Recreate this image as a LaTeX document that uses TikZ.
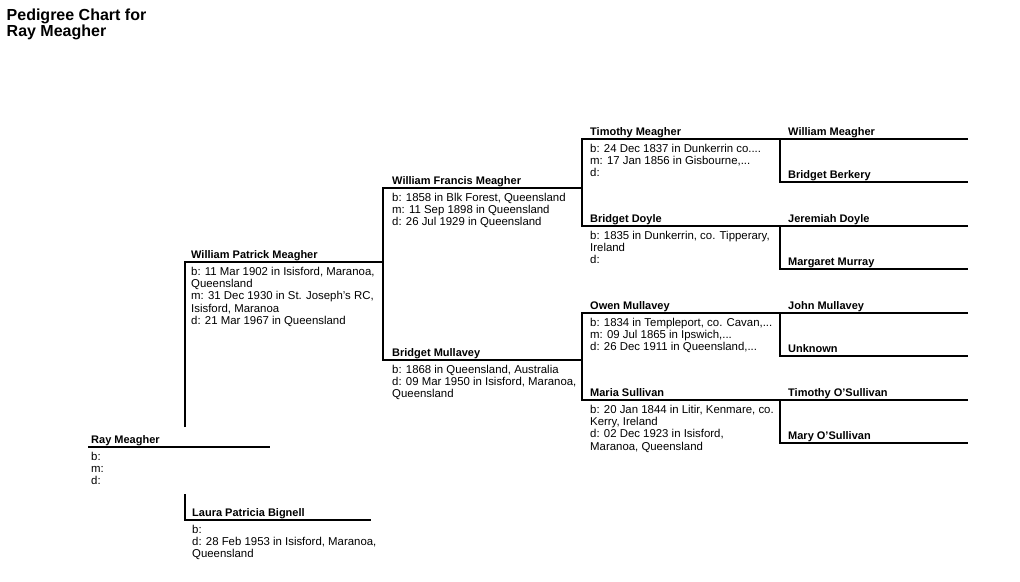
\documentclass[tikz,border=0pt]{standalone}
\usepackage{fontspec}
\setmainfont{Liberation Sans}
\begin{document}
\begin{tikzpicture}[x=1pt,y=-1pt,
  conn/.style={line width=1.1pt, line join=miter},
  nm/.style={anchor=base west, inner sep=0pt, font=\fontsize{11}{12.3}\selectfont\bfseries},
  info/.style={anchor=north west, inner sep=0pt, align=left, font=\fontsize{11.4}{12.3}\selectfont},
  ttl/.style={anchor=base west, inner sep=0pt, font=\fontsize{16}{16}\selectfont\bfseries}]
\useasboundingbox (0,0) rectangle (1020,581);

% title
\node[ttl] (title1) at (6.5,20.7) {Pedigree Chart for};
\node[ttl] (title2) at (6.5,36.7) {Ray Meagher};

% coordinates of lines
\coordinate (ray-l) at (88,447);   \coordinate (ray-r) at (270,447);
\coordinate (wpm-b) at (185,427);  \coordinate (wpm-l) at (185,262); \coordinate (wpm-r) at (383,262);
\coordinate (lpb-t) at (185,494);  \coordinate (lpb-l) at (185,520); \coordinate (lpb-r) at (371,520);
\coordinate (wfm-l) at (383,188);  \coordinate (wfm-r) at (582,188);
\coordinate (bm-l) at (383,360);   \coordinate (bm-r) at (582,360);
\coordinate (tm-l) at (582,139);   \coordinate (tm-r) at (780,139);
\coordinate (bd-l) at (582,226);   \coordinate (bd-r) at (780,226);
\coordinate (om-l) at (582,313);   \coordinate (om-r) at (780,313);
\coordinate (ms-l) at (582,400);   \coordinate (ms-r) at (780,400);
\coordinate (wm-l) at (780,139);   \coordinate (wm-r) at (968,139);
\coordinate (bb-l) at (780,182);   \coordinate (bb-r) at (968,182);
\coordinate (jd-l) at (780,226);   \coordinate (jd-r) at (968,226);
\coordinate (mm-l) at (780,269);   \coordinate (mm-r) at (968,269);
\coordinate (jm-l) at (780,313);   \coordinate (jm-r) at (968,313);
\coordinate (un-l) at (780,356);   \coordinate (un-r) at (968,356);
\coordinate (to-l) at (780,400);   \coordinate (to-r) at (968,400);
\coordinate (mo-l) at (780,443);   \coordinate (mo-r) at (968,443);

% connectors
\draw[conn] (ray-l) -- (ray-r);
\draw[conn] (wpm-b) -- (wpm-l) -- (wpm-r);
\draw[conn] (lpb-t) -- (lpb-l) -- (lpb-r);
\draw[conn] (wfm-r) -- (wfm-l) -- (bm-l) -- (bm-r);
\draw[conn] (tm-r) -- (tm-l) -- (bd-l) -- (bd-r);
\draw[conn] (om-r) -- (om-l) -- (ms-l) -- (ms-r);
\draw[conn] (wm-r) -- (wm-l) -- (bb-l) -- (bb-r);
\draw[conn] (jd-r) -- (jd-l) -- (mm-l) -- (mm-r);
\draw[conn] (jm-r) -- (jm-l) -- (un-l) -- (un-r);
\draw[conn] (to-r) -- (to-l) -- (mo-l) -- (mo-r);

% names
\node[nm] (ray) at (91,443) {Ray Meagher};
\node[nm] (wpm) at (191,258) {William Patrick Meagher};
\node[nm] (lpb) at (192,516) {Laura Patricia Bignell};
\node[nm] (wfm) at (392,184) {William Francis Meagher};
\node[nm] (bm) at (392,356) {Bridget Mullavey};
\node[nm] (tm) at (590,135) {Timothy Meagher};
\node[nm] (bd) at (590,222) {Bridget Doyle};
\node[nm] (om) at (590,309) {Owen Mullavey};
\node[nm] (ms) at (590,396) {Maria Sullivan};
\node[nm] (wm) at (788,135) {William Meagher};
\node[nm] (bb) at (788,178) {Bridget Berkery};
\node[nm] (jd) at (788,222) {Jeremiah Doyle};
\node[nm] (mm) at (788,265) {Margaret Murray};
\node[nm] (jm) at (788,309) {John Mullavey};
\node[nm] (un) at (788,352) {Unknown};
\node[nm] (to) at (788,396) {Timothy O'Sullivan};
\node[nm] (mo) at (788,439) {Mary O'Sullivan};

% details
\node[info] (ray-i) at (91,451.4) {\strut b:\\\strut m:\\\strut d:};
\node[info] (wpm-i) at (191,266.4) {\strut b: 11 Mar 1902 in Isisford, Maranoa,\\\strut Queensland\\\strut m: 31 Dec 1930 in St. Joseph's RC,\\\strut Isisford, Maranoa\\\strut d: 21 Mar 1967 in Queensland};
\node[info] (lpb-i) at (192,524.4) {\strut b:\\\strut d: 28 Feb 1953 in Isisford, Maranoa,\\\strut Queensland};
\node[info] (wfm-i) at (392,192.4) {\strut b: 1858 in Blk Forest, Queensland\\\strut m: 11 Sep 1898 in Queensland\\\strut d: 26 Jul 1929 in Queensland};
\node[info] (bm-i) at (392,364.4) {\strut b: 1868 in Queensland, Australia\\\strut d: 09 Mar 1950 in Isisford, Maranoa,\\\strut Queensland};
\node[info] (tm-i) at (590,143.4) {\strut b: 24 Dec 1837 in Dunkerrin co....\\\strut m: 17 Jan 1856 in Gisbourne,...\\\strut d:};
\node[info] (bd-i) at (590,230.4) {\strut b: 1835 in Dunkerrin, co. Tipperary,\\\strut Ireland\\\strut d:};
\node[info] (om-i) at (590,317.4) {\strut b: 1834 in Templeport, co. Cavan,...\\\strut m: 09 Jul 1865 in Ipswich,...\\\strut d: 26 Dec 1911 in Queensland,...};
\node[info] (ms-i) at (590,404.4) {\strut b: 20 Jan 1844 in Litir, Kenmare, co.\\\strut Kerry, Ireland\\\strut d: 02 Dec 1923 in Isisford,\\\strut Maranoa, Queensland};
\end{tikzpicture}
\end{document}
